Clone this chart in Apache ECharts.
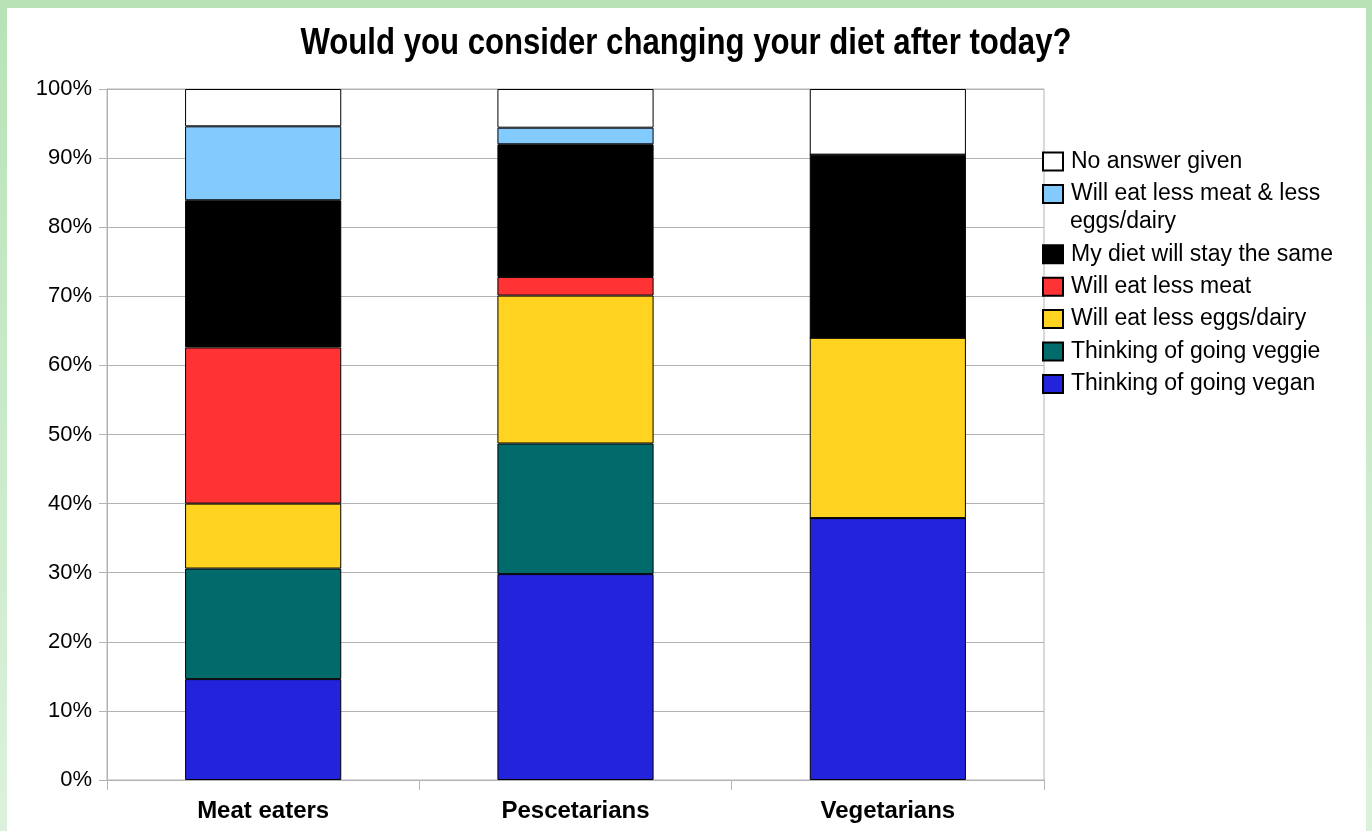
<!DOCTYPE html>
<html>
<head>
<meta charset="utf-8">
<script src="https://cdn.jsdelivr.net/npm/echarts@6/dist/echarts.min.js"></script>
<style>
  html, body { margin: 0; padding: 0; }
  body {
    width: 1372px; height: 831px; position: relative; overflow: hidden;
    background: linear-gradient(to bottom, #b7e3b7 0%, #c9eac9 50%, #dcf1dc 100%);
  }
  #paper { position: absolute; left: 7px; top: 8px; width: 1359px; height: 823px; background: #ffffff; }
  #chart { position: absolute; left: 0; top: 0; width: 1372px; height: 831px; }
</style>
</head>
<body>
<div id="paper"></div>
<div id="chart"></div>
<script>
// Survey groups along the x axis
const categories = ['Meat eaters', 'Pescetarians', 'Vegetarians'];

// Share of each group (%), stacked from the bottom up
const goingVegan   = [14.6, 29.8, 37.9];
const goingVeggie  = [16.0, 18.9, 0];
const lessEggs     = [9.4, 21.4, 26.1];
const lessMeat     = [22.6, 2.7, 0];
const stayTheSame  = [21.3, 19.2, 26.5];
const lessBoth     = [10.7, 2.4, 0];
const noAnswer     = [5.4, 5.6, 9.5];

const yTickLabels = ['0%', '10%', '20%', '30%', '40%', '50%', '60%', '70%', '80%', '90%', '100%'];

const titleText = 'Would you consider changing your diet after today?';

const seriesDefs = [
  { name: 'Thinking of going vegan', data: goingVegan, color: '#2323dc' },
  { name: 'Thinking of going veggie', data: goingVeggie, color: '#016b6b' },
  { name: 'Will eat less eggs/dairy', data: lessEggs, color: '#ffd320' },
  { name: 'Will eat less meat', data: lessMeat, color: '#ff3333' },
  { name: 'My diet will stay the same', data: stayTheSame, color: '#000000' },
  { name: 'Will eat less meat & less eggs/dairy', data: lessBoth, color: '#83caff' },
  { name: 'No answer given', data: noAnswer, color: '#ffffff' }
];

const FONT = "'Liberation Sans', Arial, sans-serif";
const legendText = { fontFamily: FONT, fontSize: 23, color: '#000', lineHeight: 27, padding: [0, 0, 0, 3] };

const chart = echarts.init(document.getElementById('chart'), null, { renderer: 'canvas' });

chart.setOption({
  animation: false,
  backgroundColor: 'transparent',
  grid: {
    left: 107, top: 89, right: 328, bottom: 51,
    show: true, borderColor: '#b3b3b3', borderWidth: 1, backgroundColor: 'transparent'
  },
  legend: [
    {
      orient: 'vertical', left: 1042, top: 148, padding: 0,
      itemWidth: 20, itemHeight: 18, itemGap: 5.4,
      icon: 'rect',
      data: ['No answer given', 'Will eat less meat & less eggs/dairy'],
      formatter: function (name) {
        return name === 'Will eat less meat & less eggs/dairy' ? 'Will eat less meat & less' : name;
      },
      textStyle: legendText
    },
    {
      orient: 'vertical', left: 1042, top: 240.8, padding: 0,
      itemWidth: 20, itemHeight: 18, itemGap: 5.4,
      icon: 'rect',
      data: ['My diet will stay the same', 'Will eat less meat', 'Will eat less eggs/dairy',
             'Thinking of going veggie', 'Thinking of going vegan'],
      textStyle: legendText
    }
  ],
  graphic: [
    {
      // bold, horizontally condensed chart title
      type: 'text', x: 686, y: 44, scaleX: 0.865,
      style: {
        x: 0, y: 0, text: titleText, align: 'center', verticalAlign: 'middle',
        font: "bold 36px 'Liberation Sans', Arial, sans-serif", fill: '#000'
      }
    },
    {
      // second line of the wrapped legend entry
      type: 'text', x: 1070, y: 222,
      style: {
        x: 0, y: 0, text: 'eggs/dairy', verticalAlign: 'middle',
        font: "23px 'Liberation Sans', Arial, sans-serif", fill: '#000'
      }
    }
  ],
  xAxis: {
    type: 'category',
    data: categories,
    axisLine: { show: true, lineStyle: { color: '#b3b3b3', width: 1 } },
    axisTick: { show: true, length: 10, lineStyle: { color: '#b3b3b3' } },
    axisLabel: { fontFamily: FONT, fontSize: 24, fontWeight: 'bold', color: '#000', margin: 19 }
  },
  yAxis: {
    type: 'value',
    min: 0, max: 100, interval: 10,
    axisLine: { show: true, lineStyle: { color: '#b3b3b3', width: 1 } },
    axisTick: { show: true, length: 8, lineStyle: { color: '#b3b3b3' } },
    splitLine: { show: true, lineStyle: { color: '#b3b3b3', width: 1 } },
    axisLabel: {
      fontFamily: FONT, fontSize: 22, color: '#000', margin: 15,
      formatter: function (v) { return yTickLabels[Math.round(v / 10)]; }
    }
  },
  series: seriesDefs.map(function (s) {
    return {
      name: s.name,
      type: 'bar',
      stack: 'total',
      barCategoryGap: '50%',
      data: s.data,
      itemStyle: { color: s.color, borderColor: '#000', borderWidth: 1 },
      emphasis: { disabled: true }
    };
  })
});
</script>
</body>
</html>
